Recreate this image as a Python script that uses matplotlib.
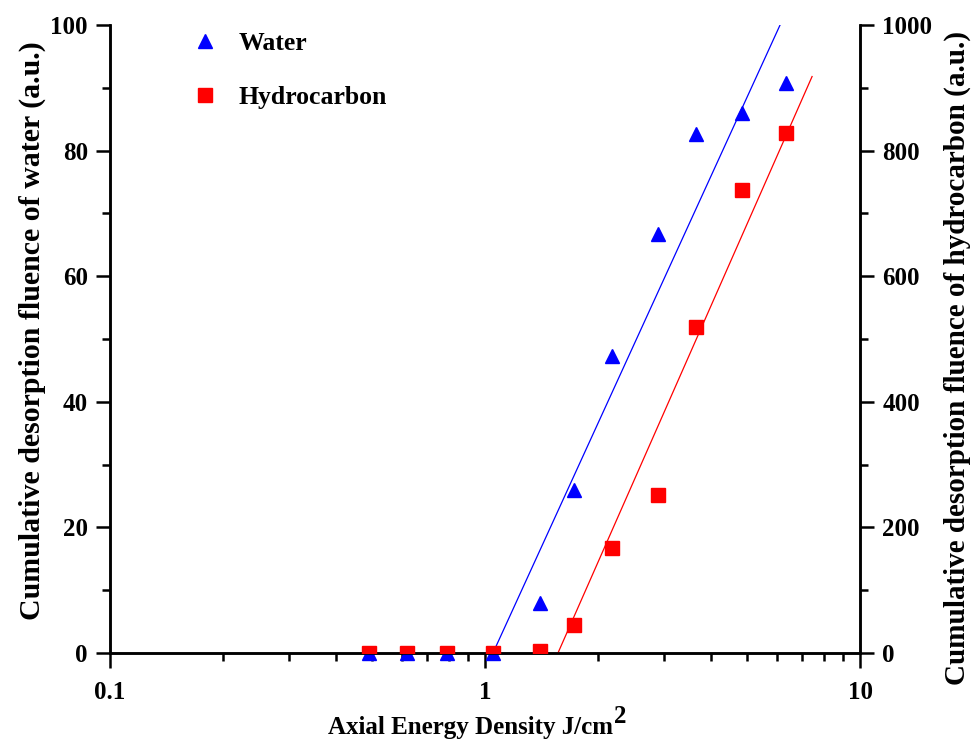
import matplotlib
matplotlib.use("Agg")
import matplotlib.pyplot as plt
from matplotlib.ticker import FixedLocator, MultipleLocator, NullFormatter

plt.rcParams["font.family"] = ["Liberation Serif", "DejaVu Serif"]
plt.rcParams["font.weight"] = "bold"

# data
energy = [0.49, 0.62, 0.79, 1.05, 1.40, 1.73, 2.18, 2.89, 3.66, 4.84, 6.35]
water = [0.0, 0.0, 0.0, 0.0, 8.0, 26.0, 47.3, 66.8, 82.6, 86.0, 90.8]
hydrocarbon = [0.0, 0.0, 0.0, 0.0, 3.0, 44.0, 168.0, 252.0, 519.0, 738.0, 828.0]

# linear (in log x) fit lines, end points
water_fit_x = [1.05, 6.12]
water_fit_y = [0.0, 100.0]
hc_fit_x = [1.565, 7.45]
hc_fit_y = [0.0, 918.0]

fig = plt.figure(figsize=(9.71, 7.47), dpi=100)
ax = fig.add_axes([0.1133, 0.1258, 0.7724, 0.8407])
ax2 = ax.twinx()

ax.plot(water_fit_x, water_fit_y, "-", color="blue", linewidth=0.9, zorder=2)
ax2.plot(hc_fit_x, hc_fit_y, "-", color="red", linewidth=0.9, zorder=2)
ax2.plot(energy, hydrocarbon, "s", color="red", markersize=9.5, zorder=3)
ax.plot(energy, water, "^", color="blue", markersize=10.5, zorder=3,
        clip_on=False)

ax.set_xscale("log")
ax.set_xlim(0.1, 10)
ax.set_ylim(0, 100)
ax2.set_ylim(0, 1000)

ax.xaxis.set_major_locator(FixedLocator([0.1, 1, 10]))
ax.xaxis.set_minor_locator(FixedLocator([m * d for d in (0.1, 1) for m in range(2, 10)]))
ax.xaxis.set_minor_formatter(NullFormatter())
ax.set_xticklabels(["0.1", "1", "10"])
ax.yaxis.set_major_locator(MultipleLocator(20))
ax.yaxis.set_minor_locator(MultipleLocator(10))
ax2.yaxis.set_major_locator(MultipleLocator(200))
ax2.yaxis.set_minor_locator(MultipleLocator(100))

for a in (ax, ax2):
    a.spines["top"].set_visible(False)
    for s in a.spines.values():
        s.set_linewidth(1.8)
    a.tick_params(which="major", length=10, width=1.8, labelsize=18, pad=6)
    a.tick_params(which="minor", length=6, width=1.8)
ax.tick_params(axis="x", which="major", length=11, pad=9)

ax.set_xlabel("Axial Energy Density J/cm", fontsize=18, fontweight="bold")
ax.xaxis.set_label_coords(0.48, -0.10)
ax.annotate("2", xy=(1, 1), xycoords=ax.xaxis.label, xytext=(1, -5),
            textcoords="offset points", fontsize=18, fontweight="bold",
            ha="left", va="baseline")
ax.set_ylabel("Cumulative desorption fluence of water (a.u.)", fontsize=21.5,
              fontweight="bold")
ax.yaxis.set_label_coords(-0.085, 0.514)
ax2.set_ylabel("Cumulative desorption fluence of hydrocarbon (a.u.)", fontsize=21,
               fontweight="bold")
ax2.yaxis.set_label_coords(1.112, 0.469)

# legend drawn without frame, as in the reference
ax.plot([], [], "^", color="blue", markersize=10.5, label="Water")
ax2.plot([], [], "s", color="red", markersize=9.5, label="Hydrocarbon")
h1, l1 = ax.get_legend_handles_labels()
h2, l2 = ax2.get_legend_handles_labels()
leg = ax2.legend(h1 + h2, l1 + l2, loc="upper left", bbox_to_anchor=(0.07, 1.025),
                 frameon=False, fontsize=18.5, handletextpad=0.55, labelspacing=1.2,
                 numpoints=1, handlelength=1.5)

fig.savefig("out.png", dpi=100)
